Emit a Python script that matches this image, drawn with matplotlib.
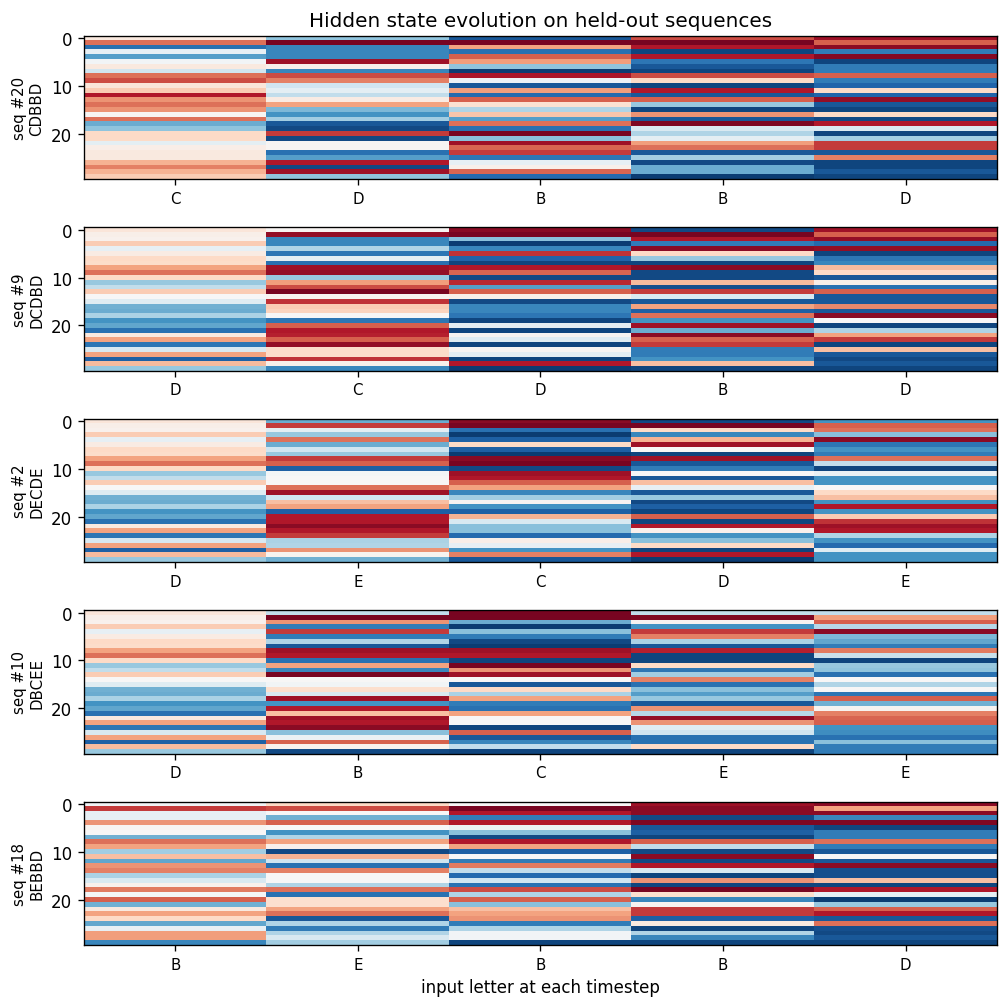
import numpy as np
import matplotlib
matplotlib.use("Agg")
import matplotlib.pyplot as plt

# sequence ids and letters
seq_ids = [20, 9, 2, 10, 18]
seq_letters = ["CDBBD", "DCDBD", "DECDE", "DBCEE", "BEBBD"]

# hidden state after first letter (shared by sequences starting with the same letter)
h_first_C = [0.1, 0.55, -0.75, -0.08, -0.55, -0.03, 0.1, -0.2, 0.55, 0.65,
             0.12, 0.25, 0.8, 0.45, 0.55, 0.45, 0.02, 0.55, -0.5, -0.4,
             0.2, 0.2, -0.1, 0.07, 0.1, 0.1, 0.35, 0.5, 0.35, 0.25]
h_first_D = [0.12, 0.06, 0.04, 0.25, -0.08, 0.08, 0.2, 0.18, 0.4, 0.55,
             0.2, -0.38, -0.25, 0.25, 0.0, -0.12, -0.48, -0.5, -0.32, -0.6,
             -0.52, -0.75, 0.1, 0.4, -0.72, -0.15, 0.4, -0.82, 0.32, -0.38]
h_first_B = [-0.03, 0.7, -0.08, -0.08, 0.45, 0.03, 0.0, -0.48, 0.55, 0.4,
             -0.35, 0.3, -0.52, 0.45, 0.5, -0.32, -0.15, 0.04, 0.52, -0.02,
             0.6, -0.48, 0.1, 0.4, 0.2, -0.52, -0.08, 0.42, 0.42, -0.65]

# seq #20  CDBBD
s20_t1 = [-0.4, 0.95, -0.65, -0.65, -0.65, 0.85, 0.05, -0.65, 0.65, 0.5,
          -0.2, -0.1, -0.25, 0.08, 0.4, -0.45, -0.6, -0.35, -0.85, -0.9,
          0.7, -0.9, 0.02, 0.02, -0.75, -0.55, 0.8, -0.9, 0.85, -0.4]
s20_t2 = [-0.85, 0.95, 0.4, -0.75, 0.6, 0.42, -0.4, -0.95, 0.82, -0.05,
          -0.85, 0.42, -0.78, 0.6, 0.15, -0.3, 0.28, -0.55, 0.55, -0.75,
          0.95, -0.42, 0.85, 0.58, 0.7, -0.72, -0.08, 0.05, 0.58, -0.78]
s20_t3 = [0.65, 0.95, 0.8, -0.92, 0.8, -0.72, -0.85, -0.92, 0.65, 0.2,
          -0.92, 0.8, -0.85, 0.6, -0.38, -0.92, 0.45, -0.85, 0.93, -0.15,
          -0.3, -0.1, 0.42, 0.55, -0.85, -0.35, -0.9, -0.5, -0.5, -0.95]
s20_t4 = [0.85, 0.6, 0.9, -0.7, 0.92, -0.92, -0.7, -0.7, 0.6, -0.7,
          -0.8, 0.2, -0.8, 0.88, -0.85, -0.92, 0.2, -0.9, 0.8, -0.15,
          -0.92, -0.35, 0.7, 0.7, -0.85, 0.5, -0.92, -0.92, -0.85, -0.92]

# seq #9  DCDBD
s9_t1 = [0.02, 0.88, -0.65, -0.65, -0.3, -0.72, -0.1, -0.75, 0.85, 0.88,
         -0.38, 0.42, 0.65, 0.95, 0.03, 0.72, 0.25, 0.22, 0.0, -0.72,
         0.6, 0.8, 0.78, 0.6, 0.88, 0.18, 0.18, 0.72, 0.05, -0.65]
s9_t2 = [0.9, 0.95, -0.42, -0.95, -0.65, 0.72, -0.8, -0.92, 0.8, 0.58,
         -0.9, 0.75, -0.55, 0.6, 0.05, -0.9, -0.65, -0.65, -0.72, -0.92,
         -0.1, -0.92, 0.03, -0.12, -0.92, 0.02, -0.1, -0.92, 0.8, -0.95]
s9_t3 = [-0.9, 0.95, 0.8, -0.7, 0.9, 0.2, -0.38, -0.92, 0.9, -0.9,
         -0.9, 0.32, -0.88, 0.7, -0.15, -0.85, 0.4, -0.82, 0.55, -0.6,
         0.85, -0.5, 0.9, 0.6, 0.7, -0.7, -0.7, -0.6, 0.3, -0.92]
s9_t4 = [0.85, 0.6, 0.88, -0.78, 0.88, -0.92, -0.72, -0.65, 0.32, 0.2,
         -0.85, 0.06, -0.75, 0.6, -0.85, -0.85, 0.48, -0.85, 0.9, 0.0,
         -0.92, -0.3, 0.4, 0.7, -0.92, 0.3, -0.85, -0.9, -0.85, -0.92]

# seq #2  DECDE
s2_t1 = [-0.5, 0.7, -0.1, -0.38, 0.55, -0.5, -0.2, -0.38, 0.7, 0.6,
         -0.82, -0.02, 0.0, 0.0, 0.55, 0.85, -0.2, 0.3, 0.4, -0.82,
         0.8, 0.8, 0.9, 0.8, 0.7, -0.32, -0.3, 0.45, 0.03, -0.48]
s2_t2 = [0.9, 0.95, -0.75, -0.95, -0.82, 0.2, -0.82, -0.95, 0.9, 0.95,
         -0.9, 0.85, 0.8, 0.6, 0.4, -0.65, -0.35, 0.03, -0.6, -0.82,
         0.35, -0.15, -0.42, -0.42, -0.78, 0.06, -0.08, -0.6, 0.5, -0.85]
s2_t3 = [-0.9, 0.95, 0.2, -0.65, 0.35, 0.85, 0.0, -0.92, 0.85, -0.85,
         -0.7, 0.0, -0.85, 0.3, -0.08, -0.85, -0.38, -0.9, -0.82, -0.92,
         0.6, -0.92, 0.8, 0.04, -0.6, -0.42, 0.2, -0.92, 0.8, -0.95]
s2_t4 = [-0.6, 0.6, 0.55, -0.42, 0.9, -0.72, -0.6, -0.7, 0.55, -0.25,
         -0.92, -0.07, -0.6, -0.6, 0.0, 0.2, 0.3, -0.6, 0.8, -0.6,
         0.25, 0.72, 0.85, 0.8, -0.3, -0.6, -0.78, -0.12, -0.6, -0.6]

# seq #10  DBCEE
s10_t1 = [-0.25, 0.95, 0.45, -0.7, 0.7, -0.7, -0.3, -0.85, 0.85, 0.8,
          -0.75, 0.4, -0.65, 0.95, 0.0, -0.03, 0.17, -0.15, 0.85, -0.6,
          0.8, 0.3, 0.85, 0.8, 0.9, -0.42, -0.07, 0.6, 0.04, -0.9]
s10_t2 = [0.95, 0.95, -0.5, -0.95, -0.42, -0.7, -0.9, -0.95, 0.85, 0.8,
          -0.92, 0.95, 0.45, 0.85, 0.0, -0.85, 0.2, -0.32, 0.4, -0.7,
          -0.75, 0.4, 0.0, 0.0, -0.92, 0.6, -0.85, -0.65, -0.25, -0.92]
s10_t3 = [-0.25, 0.93, 0.03, -0.6, 0.7, 0.5, -0.32, -0.85, 0.78, -0.92,
          -0.92, 0.2, -0.72, -0.35, 0.5, -0.75, -0.42, -0.55, -0.38, -0.85,
          0.45, -0.28, 0.88, 0.45, -0.12, -0.2, -0.75, -0.75, 0.2, -0.92]
s10_t4 = [-0.25, 0.42, 0.6, -0.28, 0.9, -0.45, -0.52, -0.7, 0.52, -0.22,
          -0.92, -0.38, -0.4, -0.75, 0.0, -0.3, 0.0, -0.72, 0.6, -0.48,
          0.03, 0.5, 0.58, 0.6, -0.6, -0.62, -0.75, -0.42, -0.7, -0.7]

# seq #18  BEBBD
s18_t1 = [0.2, 0.65, 0.0, -0.48, 0.6, 0.0, -0.6, -0.3, 0.4, 0.04,
          -0.9, 0.35, -0.2, -0.75, 0.5, 0.0, 0.0, -0.3, 0.55, -0.75,
          0.17, 0.17, 0.4, 0.55, -0.85, -0.3, -0.7, -0.3, -0.15, -0.35]
s18_t2 = [0.0, 0.95, 0.8, -0.7, 0.8, -0.07, -0.42, -0.9, 0.8, 0.4,
          -0.82, 0.0, -0.7, 0.52, -0.25, -0.78, -0.2, -0.75, 0.65, -0.3,
          0.6, -0.42, 0.3, 0.4, 0.45, -0.7, -0.3, -0.03, -0.03, -0.92]
s18_t3 = [0.85, 0.9, 0.9, -0.9, 0.93, -0.85, -0.82, -0.92, 0.6, -0.25,
          -0.9, 0.9, -0.9, 0.8, -0.15, -0.92, 0.45, -0.92, 0.95, 0.17,
          -0.65, 0.03, 0.7, 0.7, -0.82, 0.1, -0.92, -0.3, -0.65, -0.92]
s18_t4 = [0.9, 0.4, 0.9, -0.65, 0.93, -0.92, -0.7, -0.7, 0.55, -0.7,
          -0.85, 0.0, -0.85, 0.9, -0.88, -0.88, 0.3, -0.92, 0.8, -0.08,
          -0.95, -0.38, 0.6, 0.8, -0.85, 0.55, -0.88, -0.9, -0.85, -0.92]

hidden = [
    [h_first_C, s20_t1, s20_t2, s20_t3, s20_t4],
    [h_first_D, s9_t1, s9_t2, s9_t3, s9_t4],
    [h_first_D, s2_t1, s2_t2, s2_t3, s2_t4],
    [h_first_D, s10_t1, s10_t2, s10_t3, s10_t4],
    [h_first_B, s18_t1, s18_t2, s18_t3, s18_t4],
]

fig, axes = plt.subplots(5, 1, figsize=(8.4, 8.408), dpi=120)
fig.subplots_adjust(left=0.0833, right=0.989, top=0.9633, bottom=0.0624, hspace=0.336)

for ax, sid, letters, cols in zip(axes, seq_ids, seq_letters, hidden):
    mat = np.array(cols).T  # (hidden units, timesteps)
    ax.imshow(mat, aspect="auto", cmap="RdBu_r", vmin=-1, vmax=1,
              interpolation="nearest")
    ax.set_xticks(range(len(letters)))
    ax.set_xticklabels(list(letters), fontsize=9)
    ax.set_yticks([0, 10, 20])
    ax.set_ylabel(f"seq #{sid}\n{letters}", fontsize=9)

axes[0].set_title("Hidden state evolution on held-out sequences")
axes[-1].set_xlabel("input letter at each timestep")

fig.savefig("out.png", dpi=120)
